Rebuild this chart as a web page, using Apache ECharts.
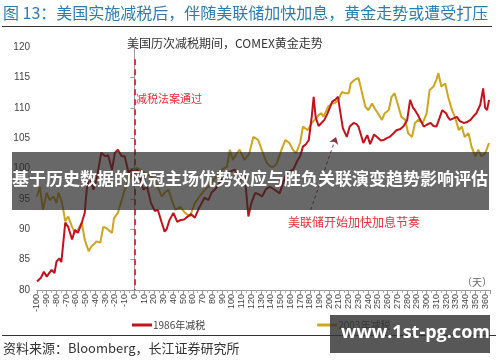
<!DOCTYPE html>
<html>
<head>
<meta charset="utf-8">
<script src="https://cdn.jsdelivr.net/npm/echarts@6/dist/echarts.min.js"></script>
<style>
html,body{margin:0;padding:0;background:#fff;}
#chart{width:500px;height:362px;}
</style>
</head>
<body>
<div id="chart"></div>
<script>
// ---- data ----
var days1986 = [-100,-96,-93,-90,-87,-85,-82,-80,-77,-75,-73,-71,-68,-64,-61,-58,-54,-51,-49,-46,-42,-39,-36,-34,-30,-27,-23,-20,-17,-13,-10,-6,-3,0,3,6,9,13,17,21,24,28,31,33,36,40,44,47,51,54,58,62,66,69,72,76,79,84,89,93,96,100,103,107,110,113,117,120,124,127,131,135,139,144,149,153,156,160,163,167,170,173,176,179,182,184,186,189,192,195,198,201,203,206,209,211,214,218,221,225,228,230,235,239,242,246,249,253,256,259,262,266,269,273,276,280,283,286,288,291,293,297,300,304,307,310,313,316,320,322,324,328,331,334,338,341,345,348,351,355,358,360,362,364];
var gold1986 = [81.4,82.0,83.0,82.2,82.9,83.3,82.8,84.7,85.2,84.6,87.8,91.1,90.4,88.3,89.9,89.4,91.1,92.7,96.5,98.7,96.5,98.1,100.8,102.6,102.0,102.2,99.8,102.6,103.1,102.0,102.0,99.3,99.8,99.5,99.8,98.5,96.5,97.0,94.3,93.0,93.2,91.1,89.6,90.0,91.5,92.7,91.2,91.5,91.6,92.0,92.5,91.9,93.4,94.3,95.2,94.8,96.0,96.8,98.1,98.6,99.3,99.6,99.8,99.0,98.1,99.3,92.1,94.3,96.0,95.8,95.4,96.6,97.0,96.5,95.9,97.8,99.2,99.6,99.8,101.2,102.0,103.6,104.0,104.7,108.5,111.8,108.5,107.0,107.5,108.0,109.0,110.2,111.0,111.3,111.8,109.6,106.6,105.2,106.9,107.5,107.3,106.9,104.2,105.5,104.0,105.6,105.2,104.6,104.7,105.0,105.2,105.8,106.3,106.5,106.9,108.0,111.3,110.0,109.6,108.8,108.5,106.9,107.2,107.5,107.0,106.9,108.2,109.6,109.1,108.4,108.0,108.3,108.5,107.8,107.5,107.6,108.0,108.6,109.1,110.5,113.2,110.0,109.6,111.3];

var days2003 = [-100,-97,-94,-90,-87,-83,-80,-78,-75,-73,-71,-68,-64,-61,-58,-54,-51,-47,-44,-41,-39,-35,-32,-29,-27,-23,-21,-17,-13,-10,-6,-3,0,2,6,11,16,21,25,28,31,35,38,42,47,52,57,62,67,72,76,79,84,90,95,98,101,105,108,113,118,122,124,127,129,132,136,140,143,146,151,155,159,163,166,170,173,178,182,185,189,192,194,199,203,206,209,213,216,220,222,226,230,233,237,240,244,247,250,254,257,261,264,267,271,274,278,281,285,288,291,296,300,303,307,310,312,315,319,322,326,329,333,336,339,343,346,350,353,356,360,364];
var gold2003 = [95.4,97.0,93.2,96.0,94.8,95.4,94.3,96.0,94.8,93.2,91.3,92.1,90.4,89.4,89.9,91.1,88.3,86.4,87.2,87.6,88.0,87.8,90.4,90.2,89.9,89.4,91.8,92.7,94.8,96.5,98.1,98.9,99.6,100.1,99.8,99.3,98.8,98.1,96.5,95.4,96.0,96.5,95.0,93.2,93.7,92.7,92.1,94.3,95.4,96.5,97.0,97.6,98.7,99.8,100.3,103.1,101.4,102.5,103.1,101.4,102.5,105.2,105.5,104.7,104.7,102.5,100.9,100.3,100.3,100.8,103.1,104.7,104.2,103.0,102.5,104.2,106.9,106.3,107.5,108.0,108.8,109.1,108.5,110.2,110.7,110.8,111.2,112.6,112.4,112.4,114.0,114.6,114.9,112.9,110.2,109.6,110.7,109.8,109.1,108.0,109.1,109.6,111.8,112.4,110.2,108.5,108.0,105.8,105.2,107.5,108.0,107.5,109.1,112.9,113.5,114.6,115.7,113.5,114.0,111.8,109.6,108.5,106.3,106.9,105.2,105.8,103.6,102.0,103.1,102.0,102.5,104.2];

var seriesNames = ['1986年减税', '2003年减税'];
var headerText = '图 13：美国实施减税后，伴随美联储加快加息，黄金走势或遭受打压';
var chartTitle = '美国历次减税期间，COMEX黄金走势';
var sourceText = '资料来源：Bloomberg，长江证券研究所';
var passLabel = '减税法案通过';
var fedLabel = '美联储开始加快加息节奏';
var unitLabel = '（天）';
var bannerText = '基于历史数据的欧冠主场优势效应与胜负关联演变趋势影响评估';
var watermark = 'www.1st-pg.com';
var passDay = 0;
var fedArrow = [[181, 93.2], [207, 105.2]];

function zip(a, b) { return a.map(function (d, i) { return [d, b[i]]; }); }

var FONT = '"Liberation Sans", "Noto Sans CJK SC", sans-serif';
var CJK = '"Noto Sans CJK SC", "Liberation Sans", sans-serif';

var chart = echarts.init(document.getElementById('chart'), null, {renderer: 'canvas'});
chart.setOption({
  animation: false,
  backgroundColor: '#fff',
  grid: {left: 37, right: 10, top: 47, bottom: 72},
  legend: {
    data: seriesNames,
    left: 127, top: 315,
    icon: 'rect', itemWidth: 20, itemHeight: 3, itemGap: 112,
    textStyle: {fontSize: 10, color: '#444', fontFamily: CJK, padding: [0,0,0,-4]}
  },
  xAxis: {
    type: 'value', min: -100, max: 365, interval: 10,
    axisLine: {lineStyle: {color: '#999'}},
    axisTick: {show: true, length: 4, lineStyle: {color: '#999'}},
    minorTick: {show: true, splitNumber: 2, length: 3, lineStyle: {color: '#aaa'}},
    axisLabel: {rotate: 90, fontSize: 9, color: '#444', fontFamily: FONT, margin: 4, showMinLabel: true, showMaxLabel: false, hideOverlap: false},
    splitLine: {show: false}
  },
  yAxis: {
    type: 'value', min: 80, max: 120, interval: 5,
    axisLine: {show: true, lineStyle: {color: '#999'}},
    axisTick: {show: true, length: 4, lineStyle: {color: '#999'}},
    axisLabel: {fontSize: 10, color: '#444', fontFamily: FONT, margin: 7},
    splitLine: {show: false}
  },
  series: [
    {
      name: seriesNames[0], type: 'line', data: zip(days1986, gold1986),
      showSymbol: false, symbol: 'none', z: 3,
      lineStyle: {color: '#c4111b', width: 2},
      itemStyle: {color: '#c4111b'},
      markLine: {
        silent: true, symbol: ['none', 'none'], label: {show: false},
        data: [
          [{coord: [passDay, 118], lineStyle: {color: '#d43a44', width: 2, type: [6, 4]}}, {coord: [passDay, 80]}],
          [{coord: fedArrow[0], symbol: 'none', lineStyle: {color: '#8a3340', width: 1, type: [3, 3]}},
           {coord: fedArrow[1], symbol: 'arrow', symbolSize: 7}]
        ]
      }
    },
    {
      name: seriesNames[1], type: 'line', data: zip(days2003, gold2003),
      showSymbol: false, symbol: 'none', z: 2,
      lineStyle: {color: '#cfa51e', width: 2},
      itemStyle: {color: '#cfa51e'}
    }
  ],
  graphic: [
    {type: 'text', left: 3, top: 5, style: {text: headerText, font: '16px ' + CJK, fill: '#2a7db0'}},
    {type: 'rect', shape: {x: 2, y: 26, width: 490, height: 1}, style: {fill: '#333'}},
    {type: 'text', left: 127, top: 37, style: {text: chartTitle, font: '12px ' + CJK, fill: '#333'}},
    {type: 'text', left: 136, top: 93, style: {text: passLabel, font: '11px ' + CJK, fill: '#e0303a'}},
    {type: 'text', left: 288, top: 216, style: {text: fedLabel, font: '12px ' + CJK, fill: '#e0303a'}},
    {type: 'text', left: 462, top: 277, style: {text: unitLabel, font: '10px ' + CJK, fill: '#666'}},
    {type: 'rect', shape: {x: 2, y: 335, width: 494, height: 1}, style: {fill: '#333'}},
    {type: 'text', left: 3, top: 342, style: {text: sourceText, font: '13px ' + CJK, fill: '#333'}},
    {type: 'rect', z: 100, shape: {x: 12, y: 152, width: 477, height: 58}, style: {fill: 'rgba(40,40,40,0.7)'}},
    {type: 'text', z: 101, left: 12, top: 170, style: {text: bannerText, font: 'bold 17px ' + CJK, fill: '#fff'}},
    {type: 'rect', z: 100, shape: {x: 330, y: 315, width: 160, height: 38}, style: {fill: 'rgba(50,50,50,0.82)'}},
    {type: 'text', z: 101, left: 341, top: 324, style: {text: watermark, font: 'bold 18px "Open Sans", "Liberation Sans", sans-serif', fill: '#fff'}}
  ]
});
</script>
</body>
</html>
